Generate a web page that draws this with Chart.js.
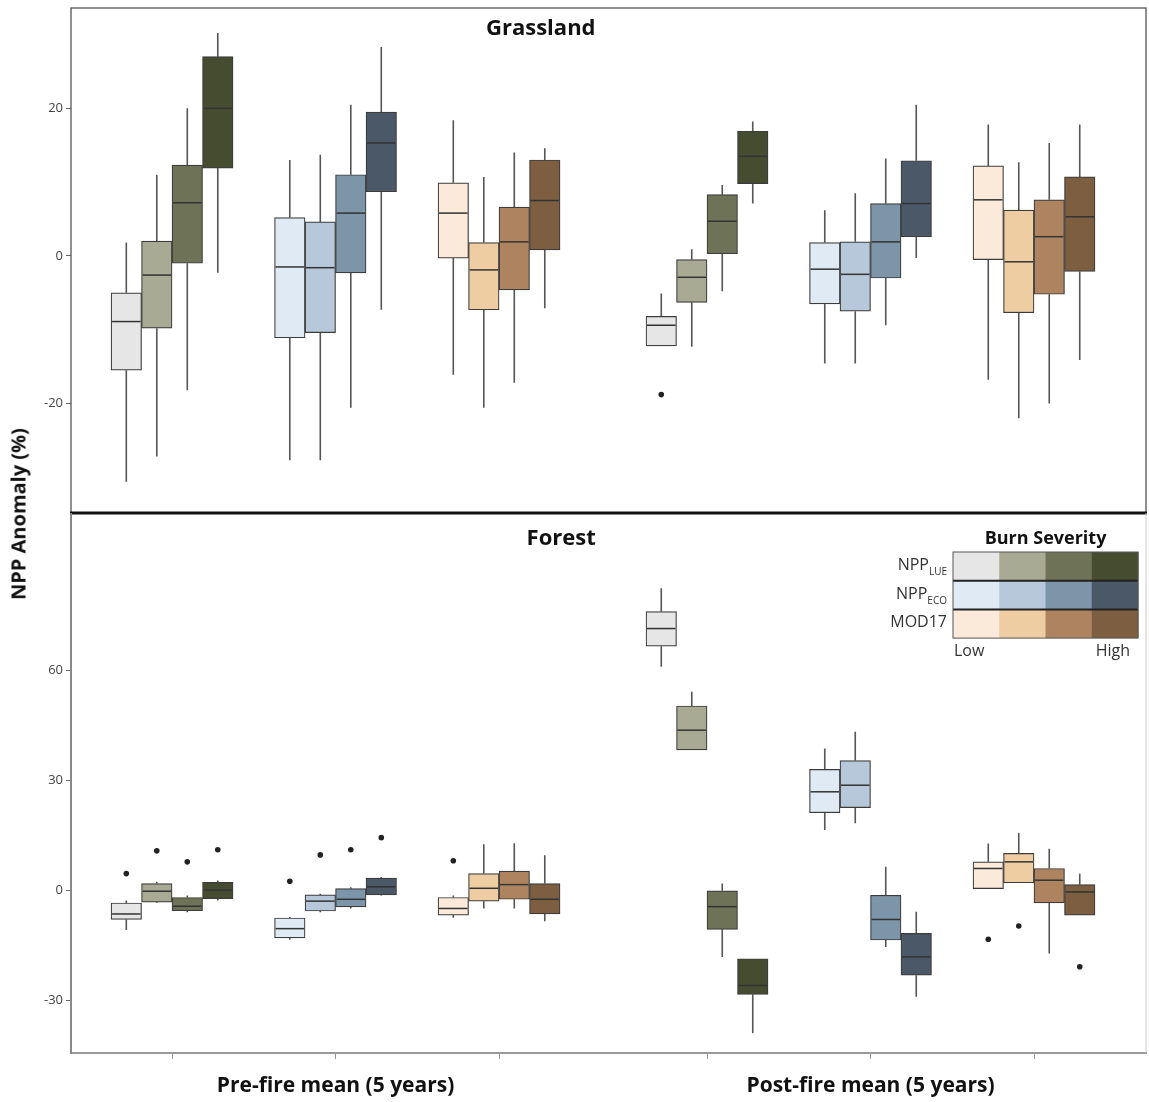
<!DOCTYPE html>
<html>
<head>
<meta charset="utf-8">
<title>NPP Anomaly</title>
<script src="https://cdn.jsdelivr.net/npm/chart.js@4.4.1/dist/chart.umd.min.js"></script>
<style>
  body { margin: 0; background: #fff; }
  #wrap { position: relative; width: 1149px; height: 1102px; background: #fff; overflow: hidden; }
  #grassCanvas { position: absolute; left: 0; top: 0; }
  #forestCanvas { position: absolute; left: 0; top: 513px; }
  #yTitle {
    position: absolute; left: 18px; top: 514px;
    transform: translate(-50%, -50%) rotate(-90deg);
    font: bold 20px 'Open Sans', sans-serif; color: #111; white-space: nowrap;
  }
</style>
</head>
<body>
<div id="wrap">
  <canvas id="grassCanvas" width="1149" height="515"></canvas>
  <canvas id="forestCanvas" width="1149" height="589"></canvas>
  <div id="yTitle">NPP Anomaly (%)</div>
</div>
<script>
// x位置（Pre-fire 3グループ + Post-fire 3グループ）
const groupPos = [1, 2, 3, 4.272, 5.272, 6.272];
const sevOffset = [-1.5, -0.5, 0.5, 1.5];
const boxWidth = 0.1865;
const xMin = 0.382;
const xMax = 6.957;
const periodLabels = ["Pre-fire mean (5 years)", "Post-fire mean (5 years)"];

// 色（バーンシビアリティ Low → High）
const lueColors = ["#e6e6e6", "#a8aa93", "#6e7357", "#464c30"];
const ecoColors = ["#dfeaf4", "#b6c8d9", "#7c95a9", "#4a5868"];
const modColors = ["#fbe9da", "#efcda2", "#ae8460", "#7d5e40"];
const productNames = ["NPP", "NPP", "MOD17"];
const productSubs = ["LUE", "ECO", ""];

// Grassland（順: preLUE, preECO, preMOD17, postLUE, postECO, postMOD17 × 4）
const grassLo = [
  -30.6, -27.2, -18.2, -2.3,
  -27.7, -27.7, -20.6, -7.3,
  -16.1, -20.6, -17.2, -7.1,
  -12.2, -12.3, -4.8, 7.1,
  -14.6, -14.6, -9.4, -0.3,
  -16.8, -22.0, -20.0, -14.1,
];
const grassQ1 = [
  -15.5, -9.8, -1.0, 11.9,
  -11.1, -10.4, -2.3, 8.7,
  -0.3, -7.3, -4.6, 0.8,
  -12.2, -6.3, 0.3, 9.8,
  -6.5, -7.5, -3.0, 2.6,
  -0.5, -7.7, -5.2, -2.1,
];
const grassMed = [
  -8.9, -2.6, 7.2, 20.0,
  -1.5, -1.6, 5.8, 15.3,
  5.8, -1.9, 1.9, 7.5,
  -9.4, -2.9, 4.7, 13.5,
  -1.8, -2.5, 1.9, 7.1,
  7.6, -0.8, 2.6, 5.3,
];
const grassQ3 = [
  -5.0, 2.0, 12.3, 27.0,
  5.2, 4.6, 11.0, 19.5,
  9.9, 1.8, 6.6, 13.0,
  -8.2, -0.5, 8.3, 16.9,
  1.8, 1.9, 7.1, 12.9,
  12.2, 6.2, 7.6, 10.7,
];
const grassHi = [
  1.8, 11.0, 20.0, 30.2,
  13.0, 13.7, 20.5, 28.3,
  18.4, 10.7, 14.0, 14.6,
  -5.1, 0.9, 9.6, 18.2,
  6.2, 8.5, 13.2, 20.5,
  17.8, 12.7, 15.3, 17.8,
];
const grassOutBox = [12];
const grassOutVal = [-18.8];

// Forest
const forestLo = [
  -10.9, -3.5, -6.0, -2.8,
  -13.5, -6.0, -5.0, -1.5,
  -7.5, -5.0, -5.0, -8.5,
  60.9, 38.2, -18.2, -39.0,
  16.4, 18.2, -15.5, -29.1,
  0.4, 2.0, -17.3, -6.8,
];
const forestQ1 = [
  -8.0, -3.3, -5.6, -2.3,
  -13.0, -5.7, -4.6, -1.3,
  -6.8, -3.0, -2.5, -6.5,
  66.5, 38.2, -10.7, -28.4,
  21.1, 22.5, -13.6, -23.2,
  0.4, 2.0, -3.5, -6.8,
];
const forestMed = [
  -6.5, -0.3, -4.4, 0.0,
  -10.5, -3.0, -2.5, 0.9,
  -5.0, 0.5, 1.5, -2.5,
  71.3, 43.6, -4.5, -26.0,
  26.8, 28.6, -8.0, -18.2,
  5.9, 7.7, 2.7, -0.5,
];
const forestQ3 = [
  -3.5, 1.8, -2.0, 2.1,
  -7.6, -1.3, 0.4, 3.3,
  -2.0, 4.5, 5.2, 1.8,
  75.9, 50.2, -0.2, -18.7,
  32.9, 35.3, -1.4, -11.8,
  7.7, 10.0, 5.9, 1.5,
];
const forestHi = [
  -2.8, 2.3, -1.5, 2.6,
  -7.3, -1.0, 0.8, 3.6,
  -1.5, 12.5, 12.8, 9.5,
  82.3, 54.1, 1.8, -18.7,
  38.6, 43.2, 6.4, -5.9,
  12.7, 15.6, 11.3, 4.5,
];
const forestOutBox = [0, 1, 2, 3, 4, 5, 6, 7, 8, 20, 21, 23];
const forestOutVal = [4.5, 10.7, 7.7, 11.0, 2.4, 9.6, 11.0, 14.3, 8.0, -13.4, -9.8, -20.9];

const grassTicks = [-20, 0, 20];
const forestTicks = [-30, 0, 30, 60];

Chart.defaults.font.family = "'Open Sans', sans-serif";
Chart.defaults.color = "#444";

const palettes = [lueColors, ecoColors, modColors];

function boxX(i) {
  return groupPos[Math.floor(i / 4)] + sevOffset[i % 4] * boxWidth;
}

function boxColor(i) {
  return palettes[Math.floor(i / 4) % 3][i % 4];
}

// ひげと中央値の描画
function boxPlugin(lo, q1, med, q3, hi) {
  return {
    id: "boxExtras",
    beforeDatasetsDraw(chart) {
      const ctx = chart.ctx;
      const xs = chart.scales.x;
      const ys = chart.scales.y;
      ctx.save();
      ctx.strokeStyle = "#555";
      ctx.lineWidth = 1.6;
      lo.forEach((v, i) => {
        const x = xs.getPixelForValue(boxX(i));
        ctx.beginPath();
        ctx.moveTo(x, ys.getPixelForValue(v));
        ctx.lineTo(x, ys.getPixelForValue(q1[i]));
        ctx.moveTo(x, ys.getPixelForValue(q3[i]));
        ctx.lineTo(x, ys.getPixelForValue(hi[i]));
        ctx.stroke();
      });
      ctx.restore();
    },
    afterDatasetsDraw(chart) {
      const ctx = chart.ctx;
      const xs = chart.scales.x;
      const ys = chart.scales.y;
      ctx.save();
      ctx.strokeStyle = "#333";
      ctx.lineWidth = 1.5;
      med.forEach((v, i) => {
        const x0 = xs.getPixelForValue(boxX(i) - boxWidth / 2);
        const x1 = xs.getPixelForValue(boxX(i) + boxWidth / 2);
        const y = ys.getPixelForValue(v);
        ctx.beginPath();
        ctx.moveTo(x0 + 1, y);
        ctx.lineTo(x1 - 1, y);
        ctx.stroke();
      });
      ctx.restore();
    },
  };
}

// パネル枠とタイトル
function panelPlugin(title, titleFrac, titleDy, isTop) {
  return {
    id: "panel",
    afterDraw(chart) {
      const ctx = chart.ctx;
      const a = chart.chartArea;
      ctx.save();
      if (isTop) {
        ctx.strokeStyle = "#555";
        ctx.lineWidth = 1.3;
        ctx.strokeRect(a.left, a.top, a.right - a.left, a.bottom - a.top);
        ctx.strokeStyle = "#111";
        ctx.lineWidth = 3;
        ctx.beginPath();
        ctx.moveTo(a.left - 1, a.bottom);
        ctx.lineTo(a.right + 1, a.bottom);
        ctx.stroke();
      } else {
        ctx.strokeStyle = "#ccc";
        ctx.lineWidth = 1;
        ctx.beginPath();
        ctx.moveTo(a.right, a.top);
        ctx.lineTo(a.right, a.bottom);
        ctx.stroke();
      }
      ctx.fillStyle = "#111";
      ctx.font = "bold 22px 'Open Sans', sans-serif";
      ctx.textAlign = "center";
      ctx.textBaseline = "middle";
      ctx.fillText(title, a.left + titleFrac * (a.right - a.left), a.top + titleDy);
      ctx.restore();
    },
  };
}

// 凡例（Burn Severity）
const legendPlugin = {
  id: "severityLegend",
  afterDraw(chart) {
    const ctx = chart.ctx;
    const a = chart.chartArea;
    const cellW = 46.25;
    const rowH = 28.7;
    const right = a.right - 8;
    const left = right - 4 * cellW;
    const top = a.top + 39;
    ctx.save();
    palettes.forEach((pal, r) => {
      pal.forEach((c, s) => {
        ctx.fillStyle = c;
        ctx.fillRect(left + s * cellW, top + r * rowH, cellW + 0.5, rowH);
      });
    });
    ctx.strokeStyle = "#222";
    ctx.lineWidth = 2;
    ctx.beginPath();
    for (let r = 1; r < 3; r++) {
      ctx.moveTo(left, top + r * rowH);
      ctx.lineTo(right, top + r * rowH);
    }
    ctx.stroke();
    ctx.lineWidth = 1;
    ctx.strokeStyle = "#555";
    ctx.strokeRect(left, top, right - left, 3 * rowH);

    ctx.fillStyle = "#111";
    ctx.font = "bold 18px 'Open Sans', sans-serif";
    ctx.textAlign = "center";
    ctx.textBaseline = "middle";
    ctx.fillText("Burn Severity", (left + right) / 2, a.top + 26);

    ctx.fillStyle = "#333";
    ctx.textBaseline = "middle";
    productNames.forEach((name, r) => {
      const cy = top + r * rowH + rowH / 2;
      const sub = productSubs[r];
      ctx.font = "16px 'Open Sans', sans-serif";
      const w1 = ctx.measureText(name).width;
      ctx.font = "10px 'Open Sans', sans-serif";
      const w2 = sub ? ctx.measureText(sub).width : 0;
      const x0 = left - 6 - w1 - w2;
      ctx.textAlign = "left";
      ctx.font = "16px 'Open Sans', sans-serif";
      ctx.fillText(name, x0, cy - 1);
      if (sub) {
        ctx.font = "10px 'Open Sans', sans-serif";
        ctx.fillText(sub, x0 + w1, cy + 6);
      }
    });
    ctx.font = "16px 'Open Sans', sans-serif";
    ctx.textAlign = "left";
    ctx.fillText("Low", left + 1, top + 3 * rowH + 13);
    ctx.textAlign = "right";
    ctx.fillText("High", right - 8, top + 3 * rowH + 13);
    ctx.restore();
  },
};

function makePanel(canvasId, lo, q1, med, q3, hi, outBox, outVal, yMin, yMax, yTicks, showX, extraPlugins) {
  const ctx = document.getElementById(canvasId).getContext("2d");
  return new Chart(ctx, {
    type: "bar",
    data: {
      datasets: [
        {
          type: "bar",
          data: q1.map((v, i) => ({ x: boxX(i), y: [v, q3[i]] })),
          backgroundColor: q1.map((v, i) => boxColor(i)),
          borderColor: "#3c3c3c",
          borderWidth: 1.2,
          borderSkipped: false,
          barPercentage: 1,
          categoryPercentage: 1,
          order: 2,
        },
        {
          type: "scatter",
          data: outBox.map((b, k) => ({ x: boxX(b), y: outVal[k] })),
          pointRadius: 2.8,
          pointBackgroundColor: "#222",
          pointBorderWidth: 0,
          order: 1,
        },
      ],
    },
    options: {
      responsive: false,
      animation: false,
      devicePixelRatio: 1,
      layout: {
        autoPadding: false,
        padding: showX ? { top: 0, bottom: 4, left: 0, right: 3 } : { top: 8, bottom: 2, left: 0, right: 3 },
      },
      plugins: {
        legend: { display: false },
        tooltip: { enabled: false },
      },
      scales: {
        x: {
          type: "linear",
          display: showX,
          min: xMin,
          max: xMax,
          offset: false,
          afterBuildTicks: (s) => {
            s.ticks = groupPos.map((v) => ({ value: v }));
          },
          afterFit: (s) => {
            if (showX) s.height = 45;
            s.paddingLeft = 0;
            s.paddingRight = 0;
          },
          grid: { drawOnChartArea: false, tickLength: 6, color: "#999", offset: false },
          border: { display: true, color: "#999", width: 2 },
          ticks: {
            autoSkip: false,
            maxRotation: 0,
            padding: 14,
            color: "#111",
            font: { size: 21, weight: "bold" },
            callback: (v, i) => (i === 1 ? periodLabels[0] : i === 4 ? periodLabels[1] : ""),
          },
        },
        y: {
          type: "linear",
          min: yMin,
          max: yMax,
          afterBuildTicks: (s) => {
            s.ticks = yTicks.map((v) => ({ value: v }));
          },
          afterFit: (s) => {
            s.width = 71;
            s.paddingTop = 0;
            s.paddingBottom = 0;
          },
          grid: { drawOnChartArea: false, tickLength: 5, color: "#666" },
          border: { display: !!showX, color: "#888", width: 2 },
          ticks: { padding: 3, color: "#444", font: { size: 13 } },
        },
      },
    },
    plugins: [boxPlugin(lo, q1, med, q3, hi)].concat(extraPlugins),
  });
}

makePanel("grassCanvas", grassLo, grassQ1, grassMed, grassQ3, grassHi, grassOutBox, grassOutVal,
  -34.85, 33.6, grassTicks, false, [panelPlugin("Grassland", 0.437, 21, true)]);
makePanel("forestCanvas", forestLo, forestQ1, forestMed, forestQ3, forestHi, forestOutBox, forestOutVal,
  -44.4, 102.8, forestTicks, true, [panelPlugin("Forest", 0.456, 26, false), legendPlugin]);
</script>
</body>
</html>
